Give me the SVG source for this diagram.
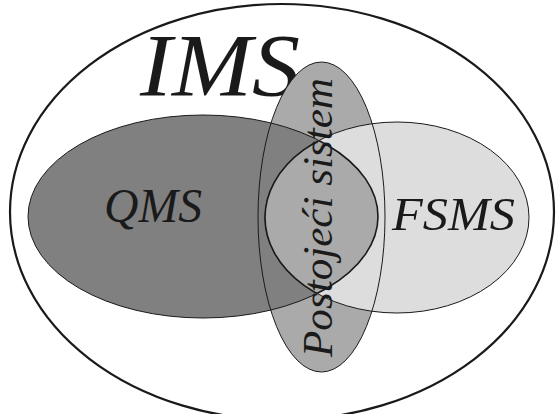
<svg xmlns="http://www.w3.org/2000/svg" width="556" height="414" viewBox="0 0 556 414">
<style>
.thin{stroke:#1a1a1a;stroke-width:1}
</style>
<defs>
<clipPath id="clipQ"><ellipse cx="203" cy="216.5" rx="175" ry="101.5"/></clipPath>
<clipPath id="clipF"><ellipse cx="397" cy="217.5" rx="132" ry="95.5"/></clipPath>
</defs>
<rect width="556" height="414" fill="#ffffff"/>
<g id="ims">
<ellipse cx="282" cy="212" rx="272" ry="208" fill="#ffffff" stroke="#1a1a1a" stroke-width="2.2"/>
<text font-family="Liberation Serif, DejaVu Serif, serif" font-style="italic" fill="#1a1a1a" x="140" y="95" font-size="88" textLength="160" lengthAdjust="spacingAndGlyphs">IMS</text>
</g>
<g id="existing-fill">
<ellipse cx="321.5" cy="217" rx="63.5" ry="155" fill="#aaaaaa"/>
</g>
<g id="qms">
<ellipse class="thin" cx="203" cy="216.5" rx="175" ry="101.5" fill="#808080"/>
<text font-family="Liberation Serif, DejaVu Serif, serif" font-style="italic" fill="#1a1a1a" x="104" y="222" font-size="48" textLength="98" lengthAdjust="spacingAndGlyphs">QMS</text>
</g>
<g id="fsms">
<ellipse class="thin" cx="397" cy="217.5" rx="132" ry="95.5" fill="#dddddd"/>
<text font-family="Liberation Serif, DejaVu Serif, serif" font-style="italic" fill="#1a1a1a" x="392" y="230" font-size="46" textLength="123" lengthAdjust="spacingAndGlyphs">FSMS</text>
</g>
<g id="overlap">
<ellipse cx="397" cy="217.5" rx="132" ry="95.5" fill="#aaaaaa" clip-path="url(#clipQ)"/>
<ellipse cx="397" cy="217.5" rx="132" ry="95.5" fill="none" stroke="#1a1a1a" stroke-width="1.6" clip-path="url(#clipQ)"/>
<ellipse cx="203" cy="216.5" rx="175" ry="101.5" fill="none" stroke="#1a1a1a" stroke-width="1.6" clip-path="url(#clipF)"/>
</g>
<g id="existing-system">
<ellipse class="thin" cx="321.5" cy="217" rx="63.5" ry="155" fill="none"/>
<text font-family="Liberation Serif, DejaVu Serif, serif" font-style="italic" fill="#1a1a1a" transform="translate(332,357) rotate(-90)" x="0" y="0" font-size="43" textLength="279" lengthAdjust="spacingAndGlyphs">Postojeći sistem</text>
</g>
<g id="connectors"/>
</svg>
